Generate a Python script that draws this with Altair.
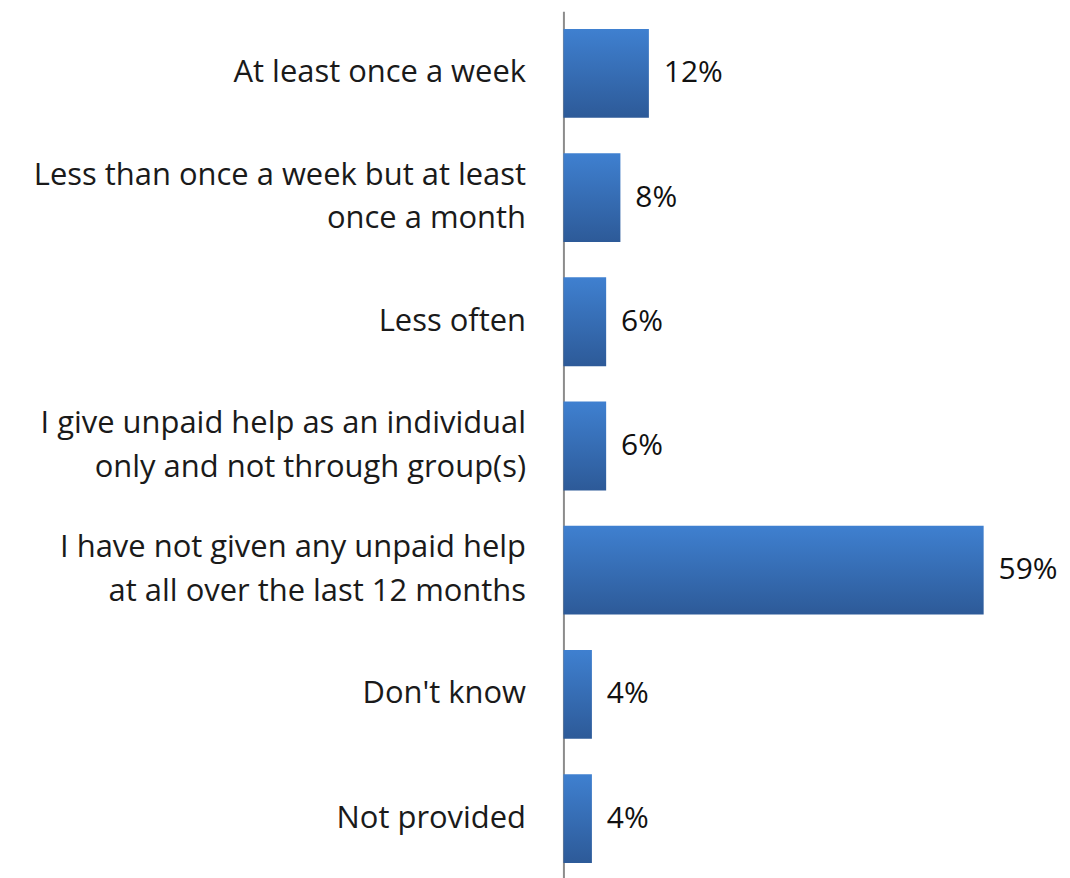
import altair as alt
import pandas as pd

categories = [
    "At least once a week",
    "Less than once a week but at least|once a month",
    "Less often",
    "I give unpaid help as an individual|only and not through group(s)",
    "I have not given any unpaid help|at all over the last 12 months",
    "Don't know",
    "Not provided",
]
values = [12, 8, 6, 6, 59, 4, 4]
value_labels = ["12%", "8%", "6%", "6%", "59%", "4%", "4%"]

df = pd.DataFrame({"cat": categories, "val": values, "lab": value_labels})

FONT = "Open Sans"

y = alt.Y(
    "cat:N",
    sort=categories,
    scale=alt.Scale(paddingInner=0.285, paddingOuter=0.1425),
    axis=alt.Axis(
        title=None,
        ticks=False,
        grid=False,
        domain=True,
        domainColor="#8c8c8c",
        domainWidth=2,
        labelFont=FONT,
        labelFontSize=31,
        labelColor="#1a1a1a",
        labelPadding=38,
        labelLimit=0,
        labelLineHeight=44,
        labelExpr="split(datum.label, '|')",
        labelOffset={
            "condition": {"test": "indexof(datum.value, '|') >= 0", "value": -22},
            "value": 0,
        },
    ),
)
x = alt.X("val:Q", scale=alt.Scale(domain=[0, 70]), axis=None)

grad = alt.LinearGradient(
    gradient="linear",
    x1=0, y1=0, x2=0, y2=1,
    stops=[
        alt.GradientStop(color="#3f80d0", offset=0),
        alt.GradientStop(color="#2d5a98", offset=1),
    ],
)

bars = alt.Chart(df).mark_bar(color=grad).encode(x=x, y=y)
text = alt.Chart(df).mark_text(
    align="left", baseline="middle", dx=15, font=FONT, fontSize=30, color="#111111"
).encode(x=x, y=y, text="lab:N")

chart = (
    alt.layer(bars, text)
    .properties(
        width=500,
        height=872,
        padding={"left": 557, "top": 2, "right": 0, "bottom": 0},
        autosize=alt.AutoSizeParams(type="none"),
        view=alt.ViewBackground(stroke="transparent", strokeWidth=0),
    )
    .configure_view(strokeWidth=0, stroke="transparent")
    .configure(background="white")
)

chart.save("out.html", embed_options={"renderer": "svg", "actions": False})
